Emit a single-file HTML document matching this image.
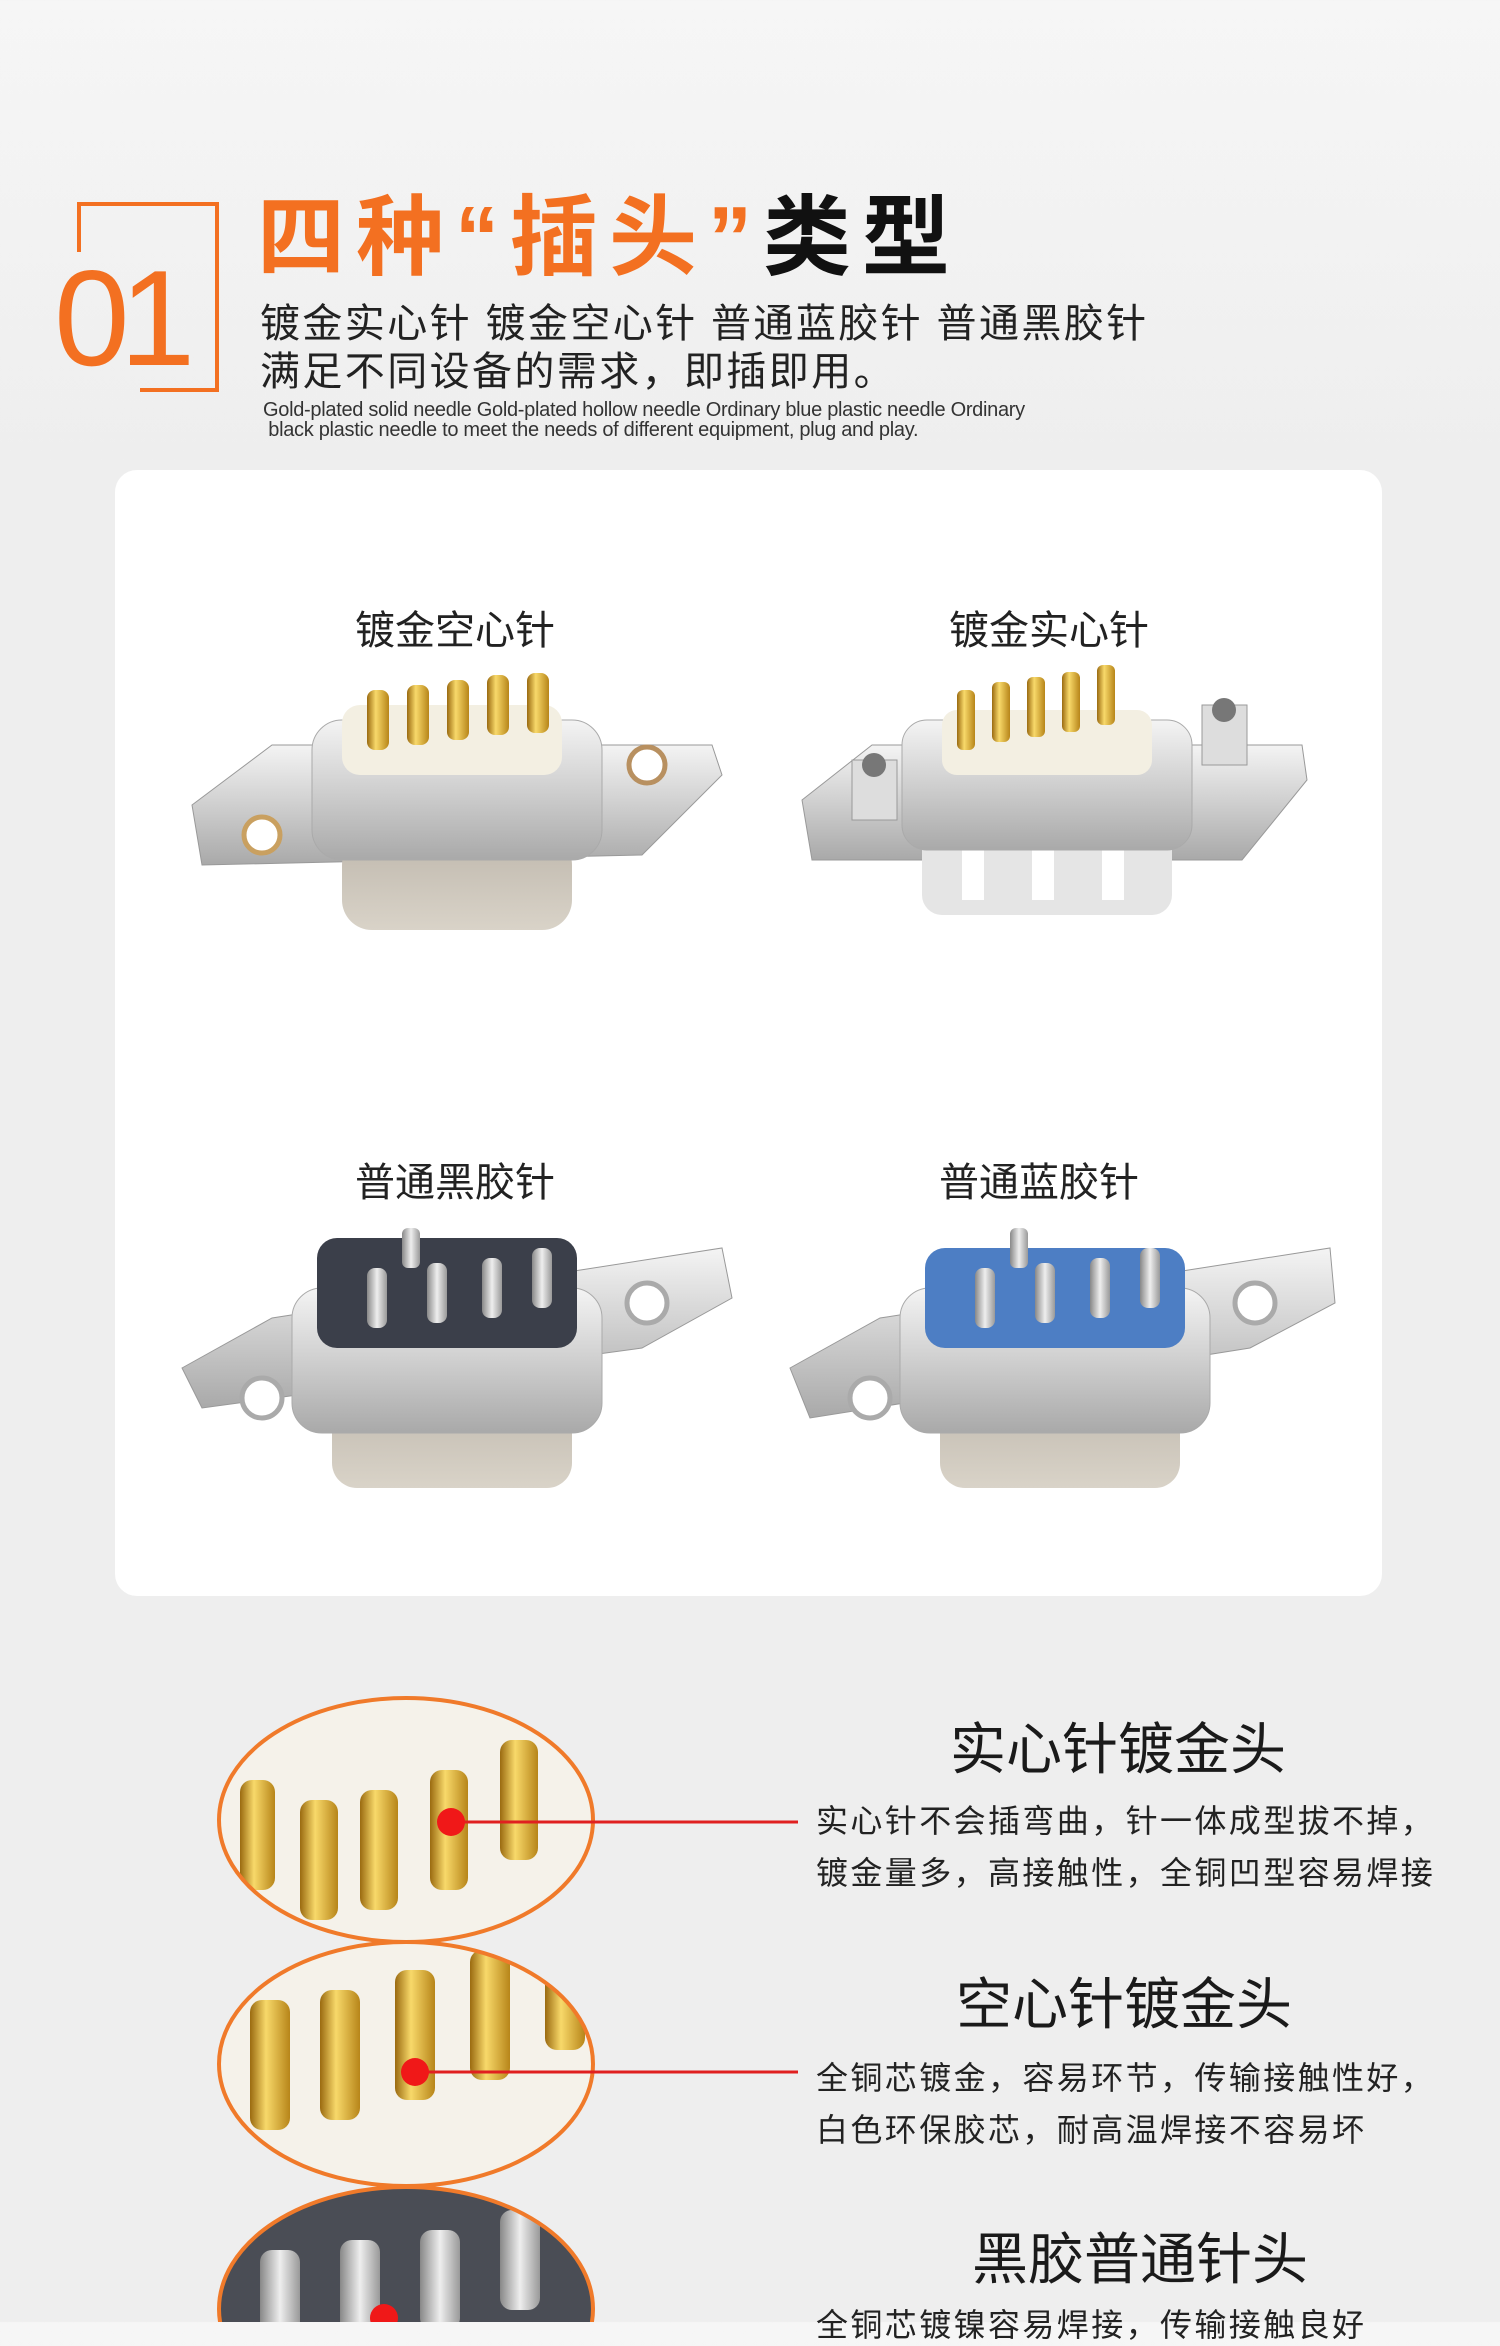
<!DOCTYPE html>
<html><head><meta charset="utf-8">
<style>
html,body{margin:0;padding:0}
body{width:1500px;height:2322px;overflow:hidden;background:linear-gradient(#f6f6f6,#eeeeee 20%,#eeeeee);position:relative;font-family:"Liberation Sans","Noto Sans CJK SC",sans-serif}
.a{position:absolute;white-space:nowrap}
.card{position:absolute;left:115px;top:470px;width:1267px;height:1126px;background:#fff;border-radius:22px}
.lab{position:absolute;font-size:40px;color:#222;transform:translateX(-50%)}
.h{position:absolute;font-size:56px;color:#1a1a1a;transform:translateX(-50%)}
.b{position:absolute;left:816px;font-size:32px;color:#222;letter-spacing:2.4px}
</style></head><body>
<div class="a" style="left:77px;top:202px;width:142px;height:4px;background:#f37021"></div>
<div class="a" style="left:77px;top:202px;width:4px;height:50px;background:#f37021"></div>
<div class="a" style="left:215px;top:202px;width:4px;height:190px;background:#f37021"></div>
<div class="a" style="left:140px;top:388px;width:79px;height:4px;background:#f37021"></div>
<div class="a" style="left:54px;top:250px;font-size:136px;line-height:136px;color:#f37021;letter-spacing:-10px">01</div>
<div class="a" style="left:257px;top:188px;font-size:88px;line-height:100px;font-weight:bold;color:#f37021;letter-spacing:11px">四种“插头”<span style="color:#111">类型</span></div>
<div class="a" style="left:260px;top:300px;font-size:40px;line-height:48px;color:#222;letter-spacing:2.4px">镀金实心针 镀金空心针 普通蓝胶针 普通黑胶针<br>满足不同设备的需求，即插即用。</div>
<div class="a" style="left:263px;top:400px;font-size:20px;line-height:20px;color:#333;letter-spacing:-0.3px">Gold-plated solid needle Gold-plated hollow needle Ordinary blue plastic needle Ordinary<br>&nbsp;black plastic needle to meet the needs of different equipment, plug and play.</div>

<div class="card"></div>
<div class="lab" style="left:455px;top:598px">镀金空心针</div>
<div class="lab" style="left:1049px;top:598px">镀金实心针</div>
<div class="lab" style="left:455px;top:1150px">普通黑胶针</div>
<div class="lab" style="left:1039px;top:1150px">普通蓝胶针</div>

<svg class="a" style="left:0;top:0" width="1500" height="2322">
<defs>
<linearGradient id="met" x1="0" y1="0" x2="0" y2="1"><stop offset="0" stop-color="#f4f4f4"/><stop offset=".5" stop-color="#cfcfcf"/><stop offset="1" stop-color="#a9a9a9"/></linearGradient>
<linearGradient id="low" x1="0" y1="0" x2="0" y2="1"><stop offset="0" stop-color="#bfb8ad"/><stop offset="1" stop-color="#d9d3c8"/></linearGradient>
<linearGradient id="gold" x1="0" y1="0" x2="1" y2="0"><stop offset="0" stop-color="#9a6a10"/><stop offset=".4" stop-color="#f8d96a"/><stop offset="1" stop-color="#b78519"/></linearGradient>
<linearGradient id="silv" x1="0" y1="0" x2="1" y2="0"><stop offset="0" stop-color="#888"/><stop offset=".5" stop-color="#eee"/><stop offset="1" stop-color="#999"/></linearGradient>
<clipPath id="c1"><ellipse cx="406" cy="1820" rx="187" ry="122"/></clipPath>
<clipPath id="c2"><ellipse cx="406" cy="2064" rx="187" ry="122"/></clipPath>
<clipPath id="c3"><ellipse cx="406" cy="2309" rx="187" ry="122"/></clipPath>
</defs>
<g transform="translate(192,665)">
<polygon points="0,140 80,80 520,80 530,110 450,190 10,200" fill="url(#met)" stroke="#999"/>
<circle cx="70" cy="170" r="18" fill="#fff" stroke="#c9a060" stroke-width="5"/>
<circle cx="455" cy="100" r="18" fill="#fff" stroke="#b89060" stroke-width="5"/>
<rect x="150" y="170" width="230" height="95" rx="30" fill="url(#low)"/>
<rect x="120" y="55" width="290" height="140" rx="30" fill="url(#met)" stroke="#aaa"/>
<rect x="150" y="40" width="220" height="70" rx="18" fill="#f3efe2"/>
<g fill="url(#gold)"><rect x="175" y="25" width="22" height="60" rx="8"/><rect x="215" y="20" width="22" height="60" rx="8"/><rect x="255" y="15" width="22" height="60" rx="8"/><rect x="295" y="10" width="22" height="60" rx="8"/><rect x="335" y="8" width="22" height="60" rx="8"/></g>
</g>
<g transform="translate(802,660)">
<polygon points="0,140 70,85 500,85 505,120 440,200 10,200" fill="url(#met)" stroke="#999"/>
<rect x="50" y="100" width="45" height="60" fill="#ddd" stroke="#999"/><circle cx="72" cy="105" r="12" fill="#777"/>
<rect x="400" y="45" width="45" height="60" fill="#ddd" stroke="#999"/><circle cx="422" cy="50" r="12" fill="#777"/>
<rect x="120" y="160" width="250" height="95" rx="20" fill="#e5e5e5"/>
<g fill="#fff"><rect x="160" y="190" width="22" height="50"/><rect x="230" y="190" width="22" height="50"/><rect x="300" y="190" width="22" height="50"/></g>
<rect x="100" y="60" width="290" height="130" rx="25" fill="url(#met)" stroke="#aaa"/>
<rect x="140" y="50" width="210" height="65" rx="15" fill="#f3efe2"/>
<g fill="url(#gold)"><rect x="155" y="30" width="18" height="60" rx="6"/><rect x="190" y="22" width="18" height="60" rx="6"/><rect x="225" y="17" width="18" height="60" rx="6"/><rect x="260" y="12" width="18" height="60" rx="6"/><rect x="295" y="5" width="18" height="60" rx="6"/></g>
</g>
<g transform="translate(182,1218)">
<polygon points="0,150 90,100 540,30 550,80 460,130 20,190" fill="url(#met)" stroke="#999"/>
<circle cx="80" cy="180" r="20" fill="#fff" stroke="#aaa" stroke-width="5"/>
<circle cx="465" cy="85" r="20" fill="#fff" stroke="#aaa" stroke-width="5"/>
<rect x="150" y="170" width="240" height="100" rx="25" fill="url(#low)"/>
<rect x="110" y="70" width="310" height="145" rx="30" fill="url(#met)" stroke="#aaa"/>
<rect x="135" y="20" width="260" height="110" rx="20" fill="#3b3f4a"/>
<g fill="url(#silv)"><rect x="185" y="50" width="20" height="60" rx="8"/><rect x="245" y="45" width="20" height="60" rx="8"/><rect x="300" y="40" width="20" height="60" rx="8"/><rect x="350" y="30" width="20" height="60" rx="8"/><rect x="220" y="10" width="18" height="40" rx="6"/></g>
</g>
<g transform="translate(790,1218)">
<polygon points="0,150 90,100 540,30 545,85 460,130 20,200" fill="url(#met)" stroke="#999"/>
<circle cx="80" cy="180" r="20" fill="#fff" stroke="#aaa" stroke-width="5"/>
<circle cx="465" cy="85" r="20" fill="#fff" stroke="#aaa" stroke-width="5"/>
<rect x="150" y="170" width="240" height="100" rx="25" fill="url(#low)"/>
<rect x="110" y="70" width="310" height="145" rx="30" fill="url(#met)" stroke="#aaa"/>
<rect x="135" y="30" width="260" height="100" rx="20" fill="#4d7ec4"/>
<g fill="url(#silv)"><rect x="185" y="50" width="20" height="60" rx="8"/><rect x="245" y="45" width="20" height="60" rx="8"/><rect x="300" y="40" width="20" height="60" rx="8"/><rect x="350" y="30" width="20" height="60" rx="8"/><rect x="220" y="10" width="18" height="40" rx="6"/></g>
</g>
<g clip-path="url(#c1)"><rect x="200" y="1690" width="400" height="260" fill="#f5f2ea"/>
<g fill="url(#gold)"><rect x="240" y="1780" width="35" height="110" rx="12"/><rect x="300" y="1800" width="38" height="120" rx="12"/><rect x="360" y="1790" width="38" height="120" rx="12"/><rect x="430" y="1770" width="38" height="120" rx="12"/><rect x="500" y="1740" width="38" height="120" rx="12"/></g></g>
<ellipse cx="406" cy="1820" rx="187" ry="122" fill="none" stroke="#f07a2a" stroke-width="4"/>
<g clip-path="url(#c2)"><rect x="200" y="1935" width="400" height="260" fill="#f5f2ea"/>
<g fill="url(#gold)"><rect x="250" y="2000" width="40" height="130" rx="12"/><rect x="320" y="1990" width="40" height="130" rx="12"/><rect x="395" y="1970" width="40" height="130" rx="12"/><rect x="470" y="1950" width="40" height="130" rx="12"/><rect x="545" y="1950" width="40" height="100" rx="12"/></g></g>
<ellipse cx="406" cy="2064" rx="187" ry="122" fill="none" stroke="#f07a2a" stroke-width="4"/>
<g clip-path="url(#c3)"><rect x="200" y="2180" width="400" height="260" fill="#4a4d55"/>
<g fill="url(#silv)"><rect x="260" y="2250" width="40" height="100" rx="12"/><rect x="340" y="2240" width="40" height="100" rx="12"/><rect x="420" y="2230" width="40" height="100" rx="12"/><rect x="500" y="2210" width="40" height="100" rx="12"/></g></g>
<ellipse cx="406" cy="2309" rx="187" ry="122" fill="none" stroke="#f07a2a" stroke-width="4"/>
<line x1="451" y1="1822" x2="798" y2="1822" stroke="#e02020" stroke-width="3"/>
<circle cx="451" cy="1822" r="14" fill="#f01818"/>
<line x1="415" y1="2072" x2="798" y2="2072" stroke="#e02020" stroke-width="3"/>
<circle cx="415" cy="2072" r="14" fill="#f01818"/>
<circle cx="384" cy="2318" r="14" fill="#f01818"/>
</svg>

<div class="h" style="left:1118px;top:1705px">实心针镀金头</div>
<div class="b" style="top:1796px">实心针不会插弯曲，针一体成型拔不掉，</div>
<div class="b" style="top:1848px">镀金量多，高接触性，全铜凹型容易焊接</div>
<div class="h" style="left:1124px;top:1960px">空心针镀金头</div>
<div class="b" style="top:2053px">全铜芯镀金，容易环节，传输接触性好，</div>
<div class="b" style="top:2105px">白色环保胶芯，耐高温焊接不容易坏</div>
<div class="h" style="left:1140px;top:2215px">黑胶普通针头</div>
<div class="b" style="top:2300px">全铜芯镀镍容易焊接，传输接触良好</div>
</body></html>
